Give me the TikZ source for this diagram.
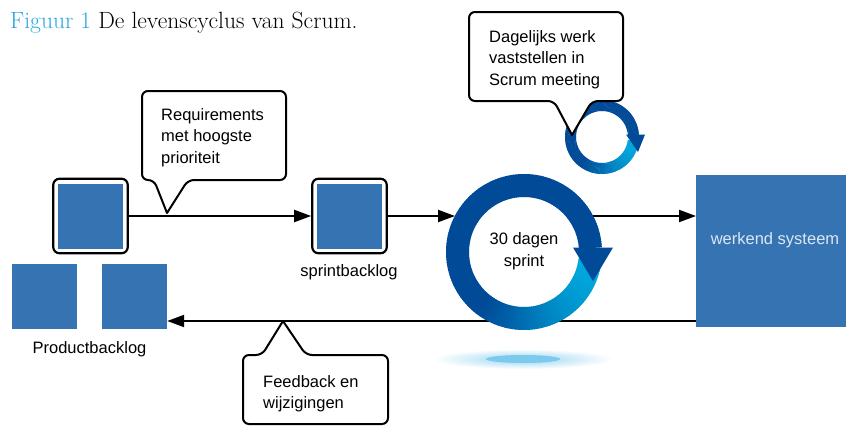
\documentclass[tikz,border=0pt]{standalone}
\usepackage{fontspec}
\newfontfamily\helv{Liberation Sans}
\usetikzlibrary{arrows.meta,fit}

\definecolor{sqblue}{HTML}{3573B3}
\definecolor{ringdark}{HTML}{004A97}
\definecolor{ringcyan}{HTML}{00A9DE}
\definecolor{figcyan}{HTML}{2AA6DF}
\definecolor{shadowblue}{HTML}{7CCAEE}
\definecolor{wstext}{HTML}{DCE7F3}

\tikzset{
  sq/.style={fill=sqblue, minimum width=65pt, minimum height=65pt, inner sep=0pt},
  frame/.style={draw, line width=2.2pt, rounded corners=6pt, inner sep=4.5pt},
  lbl/.style={font=\helv\fontsize{16.5}{21.5}\selectfont, inner sep=0pt},
  arr/.style={line width=2pt, -{Triangle[length=17pt,width=12pt]}},
  bubble/.style={draw, fill=white, line width=2pt, line join=round}
}

\begin{document}
\begin{tikzpicture}[x=1pt,y=-1pt]
    \useasboundingbox (0,0) rectangle (846,426);
    \node[anchor=base west, inner sep=0pt, font=\fontsize{23.5}{28}\selectfont] (title) at (10,28) {\textcolor{figcyan}{Figuur 1} De levenscyclus van Scrum.};

    \node[sq] (pb1) at (44.5,296.5) {};
    \node[sq] (pb2) at (134.5,296.5) {};
    \node[sq] (req) at (90.5,216) {};
    \node[frame, fit=(req)] (reqf) {};
    \node[sq] (sb) at (349.5,216) {};
    \node[frame, fit=(sb)] (sbf) {};
    \node[fill=sqblue, minimum width=150pt, minimum height=152pt, inner sep=0pt, anchor=north west] (ws) at (696,175) {};

    \node[lbl, anchor=base] (pblbl) at (89.5,353) {Productbacklog};
    \node[lbl, anchor=base] (sblbl) at (349,276) {sprintbacklog};
    \node[lbl, anchor=base, text=wstext] (wslbl) at (775,244) {werkend systeem};

    \coordinate (ringin) at (455,216);
    \coordinate (ringout) at (593,216);
    \coordinate (fb) at (283,321);
    \draw[arr] (reqf.east) -- (sbf.west);
    \draw[arr] (sbf.east) -- (ringin);
    \draw[arr] (ringout) -- (ringout -| ws.west);
    \draw[arr] (fb -| ws.west) -- (fb -| pb2.east);

    % schaduw onder de sprint
    \shade[inner color=shadowblue!80, outer color=white] (523,359) ellipse [x radius=90, y radius=10];
    \fill[shadowblue] (523,359) ellipse [x radius=37, y radius=4];

    % sprint (30 dagen)
    \begin{scope}[shift={(524,252)}]
      \foreach \a in {6,8,...,354}{
        \pgfmathsetmacro\t{ifthenelse(\a>180,0,max(0,min(100,(cos(\a)+0.6)*62.5)))}
        \fill[ringcyan!\t!ringdark] (\a:55) -- (\a:78) arc[start angle=\a, end angle=\a+2.6, radius=78]
          -- ({\a+2.6}:55) arc[start angle=\a+2.6, end angle=\a, radius=55] -- cycle;
      }
      \fill[ringdark] (49,-4.5) -- (89,-4.5) -- (69,29) -- cycle;
    \end{scope}
    \node[lbl, align=center] (sprint) at (524,251) {30 dagen\\sprint};

    % dagelijkse scrum
    \begin{scope}[shift={(602,137)}]
      \foreach \a in {6,8,...,354}{
        \pgfmathsetmacro\t{ifthenelse(\a>180,0,max(0,min(100,(cos(\a)+0.6)*62.5)))}
        \fill[ringcyan!\t!ringdark] (\a:26) -- (\a:37) arc[start angle=\a, end angle=\a+2.6, radius=37]
          -- ({\a+2.6}:26) arc[start angle=\a+2.6, end angle=\a, radius=26] -- cycle;
      }
      \fill[ringdark] (24,-2.5) -- (43,-2.5) -- (36,15) -- cycle;
    \end{scope}

    % tekstballonnen
    \coordinate (reqtip) at (167,213);
    \coordinate (dagtip) at (572,135);
    \draw[bubble] (reqtip) [rounded corners=6] -- (154,180) -- (142,180) -- (142,91) -- (286,91) -- (286,180) -- (188,180) [sharp corners] -- cycle;
    \draw[bubble] (dagtip) [rounded corners=6] -- (554,101) -- (469,101) -- (469,12) -- (623,12) -- (623,101) -- (592,101) [sharp corners] -- cycle;
    \draw[bubble] (fb) [rounded corners=6] -- (306,355) -- (388,355) -- (388,424) -- (243,424) -- (243,355) -- (262,355) [sharp corners] -- cycle;
    \node[lbl, align=left, anchor=north west] (reqtxt) at (161,108) {Requirements\\met hoogste\\prioriteit};
    \node[lbl, align=left, anchor=north west] (dagtxt) at (489,30) {Dagelijks werk\\vaststellen in\\Scrum meeting};
    \node[lbl, align=left, anchor=north west] (fbtxt) at (263,375) {Feedback en\\wijzigingen};
\end{tikzpicture}
\end{document}
